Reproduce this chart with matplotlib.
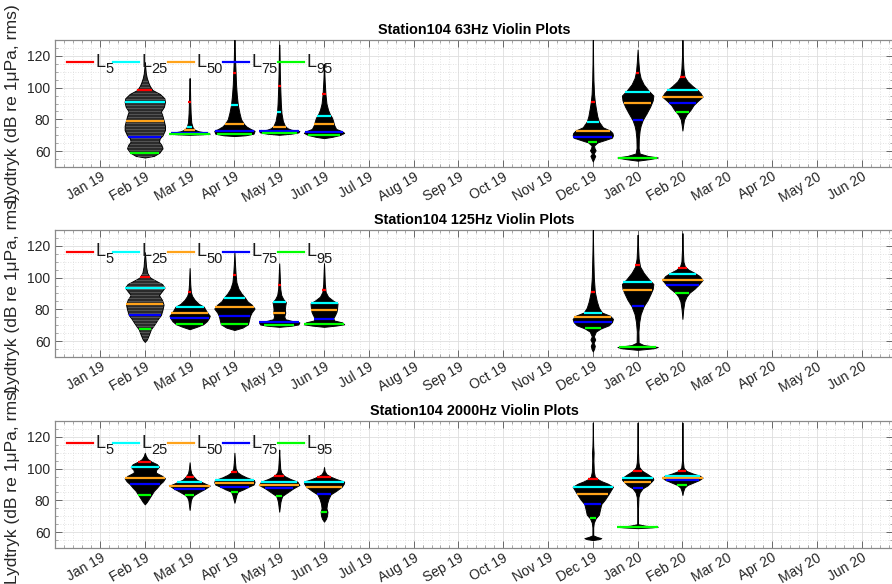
import numpy as np
import matplotlib.pyplot as plt
from matplotlib.ticker import MultipleLocator

plt.rcParams['font.family'] = ['Liberation Sans', 'DejaVu Sans']

# month axis (1 = Jan 19 ... 18 = Jun 20)
months = ['Jan 19', 'Feb 19', 'Mar 19', 'Apr 19', 'May 19', 'Jun 19',
          'Jul 19', 'Aug 19', 'Sep 19', 'Oct 19', 'Nov 19', 'Dec 19',
          'Jan 20', 'Feb 20', 'Mar 20', 'Apr 20', 'May 20', 'Jun 20']
violin_pos = [2, 3, 4, 5, 6, 12, 13, 14]
bands = ['63Hz', '125Hz', '2000Hz']

level_names = ['5', '25', '50', '75', '95']
level_colors = ['#ff0000', '#00ffff', '#ffa31a', '#0000ff', '#00ff00']

# percentile levels per band, rows L5, L25, L50, L75, L95
pct_63 = [
    [98.5, 90.7, 109.4, 101.0, 95.8, 91.2, 109.4, 106.5],
    [91.0, 75.4, 89.0, 84.8, 82.3, 78.6, 97.0, 98.5],
    [78.8, 73.3, 76.9, 75.4, 76.9, 72.9, 90.1, 94.3],
    [69.1, 71.5, 72.9, 72.7, 71.9, 69.1, 79.6, 90.5],
    [59.0, 71.0, 70.8, 71.6, 70.2, 65.5, 55.9, 84.8],
]
pct_125 = [
    [100.2, 90.7, 101.7, 95.4, 92.2, 91.0, 108.0, 106.0],
    [93.7, 81.7, 87.4, 84.5, 83.8, 78.0, 97.0, 102.5],
    [83.2, 77.5, 81.3, 77.9, 79.6, 75.0, 92.0, 98.5],
    [76.5, 74.4, 75.8, 71.8, 73.7, 72.0, 82.0, 95.5],
    [67.4, 70.6, 70.6, 70.0, 70.6, 68.0, 56.0, 90.5],
]
pct_2000 = [
    [104.4, 94.9, 97.7, 95.4, 94.9, 93.3, 98.7, 98.5],
    [101.2, 91.4, 92.8, 91.8, 91.8, 88.6, 94.3, 95.6],
    [93.9, 89.3, 91.1, 89.7, 88.6, 83.8, 91.8, 94.3],
    [90.3, 87.2, 88.6, 87.6, 83.8, 77.7, 87.6, 92.8],
    [83.4, 83.4, 85.5, 82.8, 72.9, 68.7, 63.4, 89.7],
]

# violin outlines: (level dB, relative half width)
shape_63 = [
    [(56, 0), (57, 0.45), (59, 0.72), (61.8, 0.88), (64, 0.82), (66, 0.7), (68, 0.74),
     (70, 0.88), (73.3, 1.0), (76, 1.0), (78.6, 0.95), (82, 0.88), (85, 0.8), (88, 0.95),
     (91, 1.0), (93.3, 0.97), (96, 0.75), (98.5, 0.38), (101, 0.25), (103, 0.18),
     (106, 0.1), (109, 0.05), (113, 0.02), (116, 0)],
    [(70.3, 0), (70.6, 0.6), (71, 1.0), (71.5, 0.9), (72.5, 0.45), (73.5, 0.25), (75, 0.15),
     (78, 0.08), (84, 0.05), (92, 0.03), (102, 0.015), (106, 0)],
    [(69.5, 0), (70, 0.55), (71, 0.95), (72.8, 1.0), (74, 0.8), (75.5, 0.6), (77, 0.48),
     (80, 0.33), (84, 0.25), (89, 0.17), (95, 0.12), (102, 0.08), (109, 0.06), (118, 0.03),
     (130, 0.01)],
    [(70.3, 0), (71, 0.6), (71.8, 0.95), (72.7, 1.0), (73.5, 0.6), (74.5, 0.4), (76, 0.28),
     (79, 0.18), (84, 0.11), (90, 0.08), (100, 0.05), (110, 0.03), (127, 0.01)],
    [(68.2, 0), (69, 0.4), (70.2, 0.8), (71.5, 1.0), (72.5, 0.9), (74, 0.6), (76.5, 0.5),
     (79, 0.45), (81, 0.4), (83, 0.3), (86, 0.2), (90, 0.12), (96, 0.07), (105, 0.03),
     (115, 0)],
    [(53.5, 0), (55, 0.05), (57, 0.12), (58.5, 0.04), (60.5, 0.14), (62, 0.08), (63.5, 0.06),
     (65.5, 0.23), (67, 0.6), (68.5, 0.95), (70, 1.0), (71.5, 0.97), (73, 0.85), (75, 0.5),
     (78.6, 0.3), (82, 0.22), (87, 0.15), (91, 0.1), (96, 0.06), (105, 0.03), (115, 0.015),
     (130, 0.005)],
    [(54, 0), (55, 0.6), (56, 1.0), (57, 0.5), (58.5, 0.1), (62, 0.05), (68, 0.06), (73, 0.1),
     (76, 0.15), (79.6, 0.25), (84, 0.45), (88, 0.62), (92, 0.75), (95, 0.78), (98, 0.55),
     (102, 0.3), (106, 0.15), (110, 0.08), (116, 0.04), (124, 0)],
    [(73, 0), (76, 0.03), (80, 0.08), (83, 0.2), (86, 0.4), (89, 0.55), (91.5, 0.75),
     (94.3, 1.0), (96.5, 0.9), (98.5, 0.75), (101, 0.5), (104, 0.25), (107, 0.1), (112, 0.05),
     (120, 0.02), (130, 0.005)],
]
shape_125 = [
    [(59.5, 0), (61, 0.1), (64, 0.2), (67.4, 0.3), (71, 0.5), (74, 0.65), (76.5, 0.8),
     (80, 0.88), (83, 0.93), (86, 0.85), (89, 0.7), (91.5, 0.85), (93.7, 0.98), (96, 0.85),
     (99, 0.4), (100.2, 0.25), (103, 0.12), (107, 0.06), (112, 0.03), (116, 0)],
    [(67.5, 0), (69, 0.35), (70.6, 0.67), (72.5, 0.85), (74.4, 0.95), (76, 1.0), (77.5, 0.9),
     (79.5, 0.8), (81.7, 0.7), (83.5, 0.45), (86, 0.25), (88.5, 0.12), (91, 0.06), (96, 0.03),
     (106, 0)],
    [(67, 0), (68.5, 0.4), (70.6, 0.67), (73, 0.72), (75.8, 0.77), (78, 0.85), (80.5, 1.0),
     (83, 0.85), (85, 0.65), (87.4, 0.52), (90, 0.35), (93, 0.2), (97, 0.1), (102, 0.06),
     (108, 0.03), (116, 0)],
    [(69, 0), (69.7, 0.6), (70.5, 0.95), (71.8, 1.0), (72.8, 0.6), (73.8, 0.3), (75.5, 0.25),
     (77.9, 0.3), (80, 0.28), (82.5, 0.3), (84.5, 0.33), (86.5, 0.2), (89, 0.1), (93, 0.05),
     (100, 0.03), (109, 0)],
    [(69, 0), (69.8, 0.6), (70.6, 1.0), (71.8, 0.9), (73, 0.5), (74.5, 0.46), (76.5, 0.55),
     (78.5, 0.62), (81, 0.65), (83.8, 0.67), (85.5, 0.45), (88, 0.2), (91, 0.08), (96, 0.04),
     (103, 0.02), (109, 0)],
    [(53.5, 0), (55, 0.06), (57, 0.1), (59, 0.04), (61, 0.12), (63, 0.05), (66, 0.15),
     (68, 0.4), (70, 0.8), (72, 0.95), (74, 1.0), (76, 0.85), (78, 0.45), (81, 0.3),
     (85, 0.2), (91, 0.1), (100, 0.05), (115, 0.02), (130, 0)],
    [(54.5, 0), (55.5, 0.8), (56.3, 1.0), (57.5, 0.3), (59, 0.05), (66, 0.04), (72, 0.08),
     (77, 0.15), (82, 0.3), (86, 0.5), (90, 0.65), (93, 0.75), (96, 0.78), (99, 0.55),
     (103, 0.3), (107, 0.12), (112, 0.05), (120, 0.02), (127, 0)],
    [(74, 0), (80, 0.04), (85, 0.1), (88, 0.2), (90.5, 0.35), (93, 0.6), (95.5, 0.8),
     (98.5, 1.0), (101, 0.85), (103, 0.6), (105, 0.3), (107, 0.12), (110, 0.05), (118, 0.02),
     (128, 0)],
]
shape_2000 = [
    [(77.5, 0), (79, 0.1), (81, 0.2), (83.4, 0.32), (86, 0.45), (88, 0.6), (90.3, 0.75),
     (92, 0.9), (93.9, 1.0), (95.5, 0.85), (97.5, 0.55), (99, 0.55), (101.2, 0.7),
     (102.8, 0.6), (104.4, 0.33), (106, 0.15), (108, 0.05), (110, 0)],
    [(74, 0), (77, 0.03), (80, 0.06), (82, 0.12), (83.4, 0.22), (85.5, 0.5), (87.2, 0.75),
     (89.3, 1.0), (91.4, 0.62), (93, 0.35), (94.9, 0.2), (97, 0.08), (100, 0.03), (104, 0)],
    [(78.5, 0), (81, 0.05), (83.5, 0.1), (85.5, 0.17), (87, 0.45), (88.6, 0.7), (90, 0.95),
     (91.5, 1.0), (92.8, 0.97), (94.5, 0.6), (96, 0.35), (97.7, 0.15), (100, 0.06),
     (104, 0.03), (110, 0)],
    [(72.9, 0), (76, 0.03), (79, 0.06), (81, 0.1), (82.8, 0.15), (85, 0.4), (87.6, 0.7),
     (89.7, 1.0), (91.8, 0.9), (93.5, 0.55), (95.4, 0.25), (97.5, 0.1), (100, 0.05),
     (106, 0.02), (112, 0)],
    [(66.6, 0), (68.5, 0.1), (70.5, 0.15), (72.9, 0.17), (75, 0.12), (78, 0.15), (81, 0.22),
     (83.8, 0.33), (86, 0.6), (88.6, 0.88), (90.5, 0.98), (91.8, 1.0), (93.5, 0.6),
     (94.9, 0.33), (96.5, 0.12), (98.5, 0.03), (101, 0)],
    [(55, 0), (55.6, 0.3), (56.2, 0.42), (57, 0.2), (58, 0.02), (63, 0.02), (66, 0.05),
     (68.7, 0.14), (71, 0.3), (74, 0.35), (77.7, 0.42), (80.5, 0.6), (83.8, 0.77),
     (86.5, 0.9), (88.6, 1.0), (90.5, 0.75), (92, 0.45), (93.3, 0.25), (95, 0.1), (98, 0.05),
     (105, 0.03), (110, 0.04), (114, 0.02), (120, 0.01), (129, 0)],
    [(62.5, 0), (63, 0.7), (63.4, 1.0), (64, 0.4), (65, 0.02), (75, 0.02), (82, 0.04),
     (85, 0.1), (87.6, 0.25), (89.5, 0.5), (91.8, 0.68), (93.2, 0.78), (94.3, 0.75),
     (96.5, 0.5), (98.7, 0.22), (101, 0.08), (104, 0.04), (110, 0.02), (120, 0.01), (129, 0)],
    [(83.4, 0), (85.5, 0.03), (88, 0.1), (89.7, 0.25), (91.3, 0.55), (92.8, 0.83),
     (94.3, 1.0), (95.6, 0.85), (97, 0.5), (98.5, 0.2), (100.5, 0.06), (105, 0.02),
     (115, 0.01), (129, 0)],
]

# violins drawn grey-striped (fewer samples)
striped = {'63Hz': [0], '125Hz': [0], '2000Hz': []}

HALF_W = 0.45


def draw_violin(ax, x, shape, pcts, striped_body=False):
    v = np.array([p[0] for p in shape])
    w = np.array([p[1] for p in shape]) * HALF_W
    body = '#2b2b2b' if striped_body else 'black'
    ax.fill_betweenx(v, x - w, x + w, facecolor=body, edgecolor='black', lw=0.7, zorder=3)
    if striped_body:
        for lv in np.arange(v[0] + 0.8, v[-1], 1.9):
            hw = np.interp(lv, v, w)
            if hw > 0.05:
                ax.plot([x - hw + 0.02, x + hw - 0.02], [lv, lv], color='#555555', lw=0.7, zorder=3)
    for lv, col in zip(pcts, level_colors):
        hw = max(np.interp(lv, v, w), 0.035)
        ax.plot([x - hw, x + hw], [lv, lv], color=col, lw=1.6, zorder=4,
                solid_capstyle='butt')


def draw_legend(ax, ax_w_px, ax_h_px):
    # horizontal key in the upper-left corner, offsets in pixels from the axes corner
    starts = [12, 58, 113, 168, 223]
    for x0, name, col in zip(starts, level_names, level_colors):
        y_line = 1 - 22 / ax_h_px
        ax.plot([x0 / ax_w_px, (x0 + 26) / ax_w_px], [y_line, y_line], color=col, lw=1.6,
                transform=ax.transAxes, clip_on=False, zorder=5)
        ax.text((x0 + 28) / ax_w_px, 1 - 26.5 / ax_h_px, 'L', transform=ax.transAxes,
                fontsize=13, va='baseline', ha='left', color='#1a1a1a', zorder=5)
        ax.text((x0 + 38) / ax_w_px, 1 - 33 / ax_h_px, name, transform=ax.transAxes,
                fontsize=10.5, va='baseline', ha='left', color='#1a1a1a', zorder=5)


fig = plt.figure(figsize=(8.92, 5.84), dpi=100)
bottoms = [0.714, 0.3887, 0.0616]
ax_rect_w, ax_rect_h = 0.9392, 0.2175
pct_all = [pct_63, pct_125, pct_2000]
shape_all = [shape_63, shape_125, shape_2000]

for band, bottom, pcts, shapes in zip(bands, bottoms, pct_all, shape_all):
    ax = fig.add_axes([0.0619, bottom, ax_rect_w, ax_rect_h])
    for k, xpos in enumerate(violin_pos):
        draw_violin(ax, xpos, shapes[k], [row[k] for row in pcts],
                    striped_body=k in striped[band])

    ax.set_xlim(0, 18.70)
    ax.set_ylim(50, 130)
    ax.set_xticks(range(1, len(months) + 1))
    ax.set_xticklabels(months, rotation=30, ha='right', va='top', rotation_mode='anchor')
    ax.set_yticks([60, 80, 100, 120])
    ax.xaxis.set_minor_locator(MultipleLocator(0.2))
    ax.yaxis.set_minor_locator(MultipleLocator(5))
    ax.tick_params(which='both', direction='in', top=True, right=True, colors='#262626',
                   labelsize=10)
    ax.tick_params(which='major', length=5, width=0.6, color='#555555')
    ax.tick_params(which='minor', length=2.5, width=0.5, color='#888888')
    ax.tick_params(axis='x', pad=2)
    ax.grid(which='major', color='#dedede', lw=0.6)
    ax.grid(which='minor', color='#dadada', lw=0.6, ls=(0, (1, 2)))
    ax.set_axisbelow(True)
    for sp in ax.spines.values():
        sp.set_color('#8a8a8a')
        sp.set_linewidth(0.9)

    ax.set_title(f'Station104 {band} Violin Plots', fontsize=10.4, fontweight='bold', pad=4)
    ax.set_ylabel('Lydtryk (dB re 1μPa, rms)', fontsize=12.6, color='#262626')
    ax.yaxis.set_label_coords(-0.042, 0.5)

    draw_legend(ax, ax_rect_w * 892, ax_rect_h * 584)

fig.savefig('out.png', dpi=100)
